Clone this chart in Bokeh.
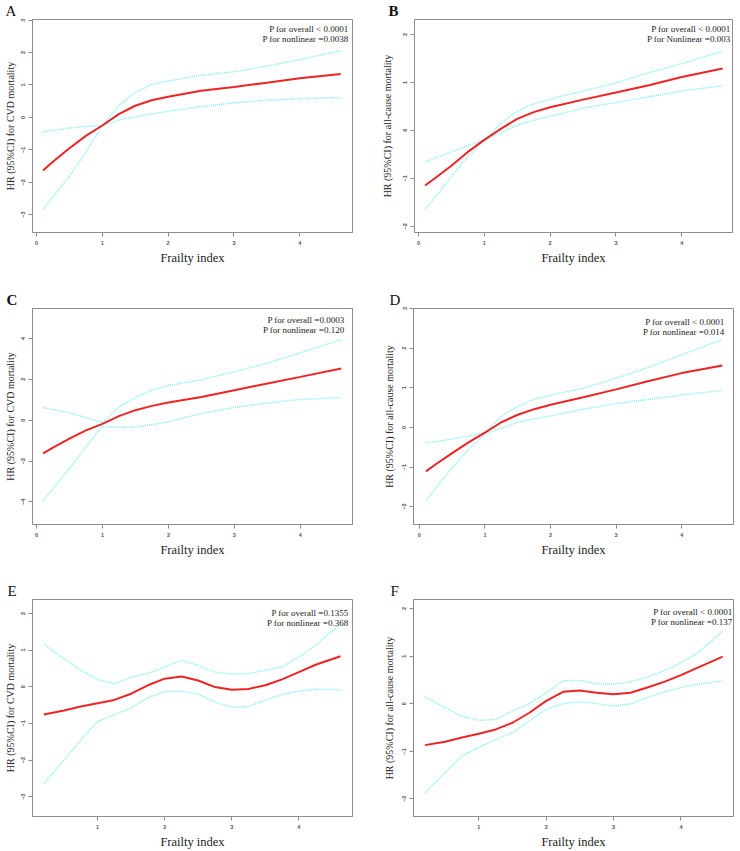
from bokeh.plotting import figure
from bokeh.layouts import column, row
from bokeh.models import Label, FixedTicker, Range1d
from bokeh.embed import file_html
from bokeh.resources import INLINE

# ---------------- data ----------------
x_ad = [0.1, 0.25, 0.5, 0.75, 1.0, 1.25, 1.5, 1.75, 2.0, 2.5, 3.0, 3.5, 4.0, 4.62]
x_ef = [0.2, 0.5, 0.75, 1.0, 1.25, 1.5, 1.75, 2.0, 2.25, 2.5, 2.75, 3.0, 3.25, 3.5, 3.75, 4.0, 4.25, 4.62]

a_hr = [-1.64, -1.37, -0.95, -0.57, -0.25, 0.10, 0.36, 0.53, 0.64, 0.82, 0.94, 1.07, 1.21, 1.34]
a_hi = [-0.44, -0.40, -0.33, -0.28, -0.25, 0.36, 0.77, 1.02, 1.12, 1.30, 1.41, 1.58, 1.78, 2.06]
a_lo = [-2.85, -2.45, -1.81, -1.08, -0.25, -0.08, 0.02, 0.11, 0.19, 0.33, 0.45, 0.53, 0.58, 0.61]

b_hr = [-1.15, -1.00, -0.74, -0.45, -0.20, 0.03, 0.24, 0.38, 0.48, 0.64, 0.79, 0.94, 1.11, 1.29]
b_hi = [-0.66, -0.58, -0.45, -0.32, -0.20, 0.14, 0.40, 0.55, 0.65, 0.82, 0.99, 1.20, 1.39, 1.65]
b_lo = [-1.66, -1.40, -0.96, -0.55, -0.20, -0.05, 0.11, 0.21, 0.29, 0.46, 0.58, 0.70, 0.82, 0.93]

c_hr = [-1.63, -1.35, -0.90, -0.50, -0.18, 0.20, 0.49, 0.70, 0.87, 1.14, 1.47, 1.80, 2.12, 2.53]
c_hi = [0.62, 0.52, 0.36, 0.12, -0.12, 0.65, 1.11, 1.47, 1.70, 1.98, 2.37, 2.80, 3.30, 3.95]
c_lo = [-3.95, -3.35, -2.37, -1.31, -0.30, -0.36, -0.34, -0.22, -0.08, 0.33, 0.62, 0.85, 1.01, 1.11]

d_hr = [-1.11, -0.93, -0.65, -0.38, -0.13, 0.13, 0.32, 0.46, 0.57, 0.76, 0.96, 1.17, 1.37, 1.56]
d_hi = [-0.39, -0.36, -0.29, -0.22, -0.13, 0.28, 0.53, 0.71, 0.81, 0.99, 1.24, 1.52, 1.83, 2.22]
d_lo = [-1.84, -1.53, -1.02, -0.55, -0.17, -0.02, 0.13, 0.22, 0.29, 0.46, 0.60, 0.71, 0.82, 0.93]

e_hr = [-0.76, -0.65, -0.54, -0.45, -0.36, -0.19, 0.04, 0.22, 0.28, 0.17, -0.01, -0.08, -0.06, 0.04, 0.20, 0.40, 0.60, 0.83]
e_hi = [1.16, 0.77, 0.45, 0.20, 0.08, 0.26, 0.36, 0.54, 0.72, 0.58, 0.40, 0.34, 0.36, 0.45, 0.54, 0.81, 1.13, 1.72]
e_lo = [-2.65, -2.00, -1.45, -0.95, -0.76, -0.58, -0.30, -0.13, -0.12, -0.20, -0.42, -0.56, -0.54, -0.36, -0.21, -0.12, -0.07, -0.08]

f_hr = [-0.87, -0.80, -0.71, -0.63, -0.54, -0.40, -0.19, 0.06, 0.25, 0.28, 0.23, 0.20, 0.23, 0.34, 0.46, 0.60, 0.76, 0.99]
f_hi = [0.14, -0.08, -0.26, -0.35, -0.33, -0.15, 0.00, 0.23, 0.48, 0.49, 0.42, 0.41, 0.46, 0.56, 0.69, 0.86, 1.07, 1.53]
f_lo = [-1.87, -1.45, -1.10, -0.92, -0.75, -0.61, -0.36, -0.12, 0.00, 0.04, 0.00, -0.05, 0.00, 0.13, 0.25, 0.34, 0.41, 0.48]

ticks_x_ad = [0, 1, 2, 3, 4]
ticks_x_ef = [1, 2, 3, 4]
ticks_y_a = [-3, -2, -1, 0, 1, 2, 3]
ticks_y_b = [-2, -1, 0, 1, 2]
ticks_y_c = [-4, -2, 0, 2, 4]
ticks_y_d = [-2, -1, 0, 1, 2, 3]
ticks_y_e = [-3, -2, -1, 0, 1, 2]
ticks_y_f = [-2, -1, 0, 1, 2]

ylab_cvd = "HR (95%CI) for CVD mortality"
ylab_all = "HR (95%CI) for all-cause mortality"
xlab = "Frailty index"

SERIF = "Liberation Serif"
SANS = "Liberation Sans"
BOX = "#8c8c8c"


def panel(letter, bold, xs, hr, lo, hi, xr, yr, xt, yt, ylabel, ptexts,
          w, h, bl, br, bt, bb, letter_off, ylab_standoff, ptext_right, ptext_top):
    p = figure(width=w, height=h, output_backend="svg", toolbar_location=None,
               x_range=Range1d(*xr), y_range=Range1d(*yr),
               min_border_left=bl, min_border_right=br,
               min_border_top=bt, min_border_bottom=bb)
    p.background_fill_color = "white"
    p.border_fill_color = "white"
    p.outline_line_color = BOX
    p.outline_line_width = 1
    p.xgrid.visible = False
    p.ygrid.visible = False

    p.title.text = letter
    p.title.align = "left"
    p.title.offset = letter_off
    p.title.standoff = 1
    p.title.text_font = SERIF
    p.title.text_font_size = "15px"
    p.title.text_font_style = "bold" if bold else "normal"
    p.title.text_color = "#111111"

    for ax, ticks in ((p.xaxis[0], xt), (p.yaxis[0], yt)):
        ax.ticker = FixedTicker(ticks=ticks)
        ax.axis_line_color = BOX
        ax.major_tick_line_color = BOX
        ax.major_tick_out = 4
        ax.major_tick_in = 0
        ax.minor_tick_line_color = None
        ax.major_label_text_font = SANS
        ax.major_label_text_font_size = "5.5px"
        ax.major_label_text_font_style = "bold"
        ax.major_label_text_color = "#555555"
        ax.axis_label_text_font = SERIF
        ax.axis_label_text_font_style = "normal"
        ax.axis_label_text_color = "#222222"

    p.xaxis.axis_label = xlab
    p.xaxis.axis_label_text_font_size = "12.5px"
    p.xaxis.major_label_standoff = 4
    p.xaxis.axis_label_standoff = 3

    p.yaxis.axis_label = ylabel
    p.yaxis.axis_label_text_font_size = "10px"
    p.yaxis.major_label_orientation = "vertical"
    p.yaxis.major_label_standoff = 3
    p.yaxis.axis_label_standoff = ylab_standoff

    p.line(xs, hi, line_color="#80eeee", line_width=1.5, line_dash="1 1")
    p.line(xs, lo, line_color="#80eeee", line_width=1.5, line_dash="1 1")
    p.line(xs, hr, line_color="#ee2424", line_width=2)

    fw = w - bl - br
    fh = h - bt - bb
    for i, t in enumerate(ptexts):
        p.add_layout(Label(x=fw - ptext_right, y=fh - ptext_top - 10.5 * i,
                           x_units="screen", y_units="screen", text=t,
                           text_font=SERIF, text_font_size="9px",
                           text_color="#222222", text_align="right",
                           text_baseline="middle"))
    return p


pA = panel("A", False, x_ad, a_hr, a_lo, a_hi, (-0.06, 4.80), (-3.55, 3.02),
           ticks_x_ad, ticks_y_a, ylab_cvd,
           ["P for overall < 0.0001", "P for nonlinear =0.0038"],
           370, 280, 32, 18, 16, 48, -27, 3, 4, 12)
pB = panel("B", True, x_ad, b_hr, b_lo, b_hi, (-0.06, 4.77), (-2.13, 2.31),
           ticks_x_ad, ticks_y_b, ylab_all,
           ["P for overall < 0.0001", "P for Nonlinear =0.003"],
           370, 280, 44, 8, 16, 48, -26, 8, 2, 12)
pC = panel("C", True, x_ad, c_hr, c_lo, c_hi, (-0.06, 4.79), (-5.11, 5.47),
           ticks_x_ad, ticks_y_c, ylab_cvd,
           ["P for overall =0.0003", "P for nonlinear =0.120"],
           370, 290, 32, 18, 28, 46, -26, 3, 8, 11)
pD = panel("D", False, x_ad, d_hr, d_lo, d_hi, (-0.09, 4.79), (-2.45, 3.00),
           ticks_x_ad, ticks_y_d, ylab_all,
           ["P for overall < 0.0001", "P for nonlinear =0.014"],
           370, 290, 43, 7, 28, 45, -24, 5, 9, 14)
pE = panel("E", False, x_ef, e_hr, e_lo, e_hi, (0.03, 4.80), (-3.54, 2.38),
           ticks_x_ef, ticks_y_e, ylab_cvd,
           ["P for overall =0.1355", "P for nonlinear =0.368"],
           370, 281, 32, 18, 29, 35, -25, 3, 4, 13)
pF = panel("F", False, x_ef, f_hr, f_lo, f_hi, (0.03, 4.78), (-2.37, 2.19),
           ticks_x_ef, ticks_y_f, ylab_all,
           ["P for overall < 0.0001", "P for nonlinear =0.137"],
           370, 281, 43, 7, 28, 35, -23, 5, 1, 13)

layout = column(row(pA, pB), row(pC, pD), row(pE, pF))

open("out.html", "w").write(file_html(layout, INLINE))
